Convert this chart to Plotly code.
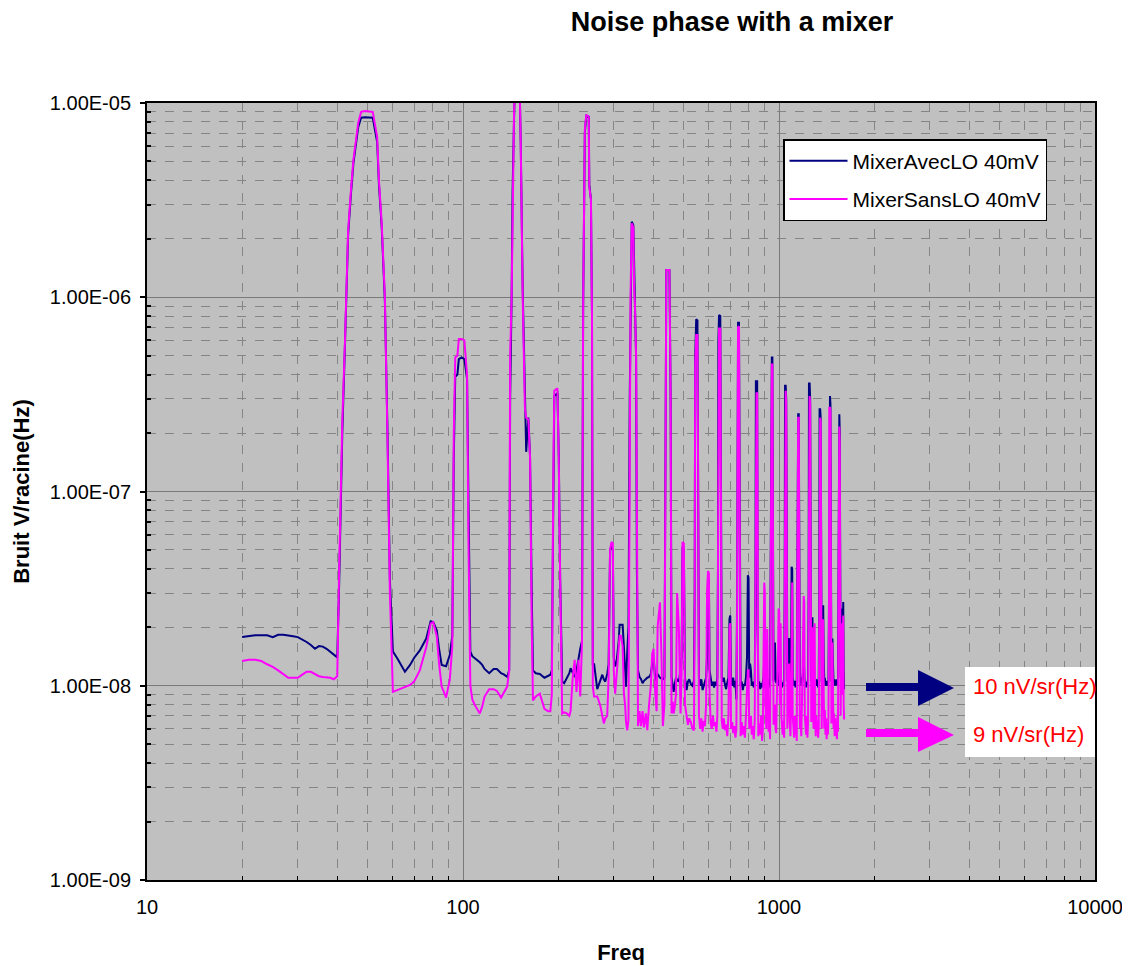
import plotly.graph_objects as go

# ---------------- data (frequency in Hz, noise in nV/sqrt(Hz)) ----------------
freq = [
    20, 21, 22, 23, 24, 25, 26, 27, 28, 29, 30, 31, 32, 33, 34, 35, 36, 37, 38, 39, 40,
    40.5, 41.5, 42.3, 43.3, 44.2, 45, 46.6, 47.6, 49, 51.8, 53.5, 54.2, 55.3, 56.6, 57.7, 58.7, 60,
    62, 65.5, 68, 70, 73, 76.5, 79, 80.5, 82.6, 84, 85.6, 88.4, 90.8, 92.5,
    93.5, 94.5, 96, 97, 99, 101, 103, 104, 105.5, 107, 109, 113, 115, 117, 121, 125, 128, 132, 135, 138, 140,
    141, 142.5, 143.5, 145, 146, 151, 152.3, 154.5, 157, 158.5, 161, 163, 165, 166.5, 170, 175, 181, 186, 189, 191,
    193, 194.5, 199, 201, 203, 206, 209, 213, 217, 219, 222.5, 225.6, 228.7, 232, 235, 238, 240,
    243, 245.5, 250, 251, 254, 256, 257.5, 260, 266, 272, 276, 279, 282, 286, 289, 292, 295, 298, 300, 303, 306, 311, 313, 316, 320, 323, 326, 328, 331, 334, 337,
    339, 342, 346, 348, 350, 353, 355, 358, 362, 366, 370, 374, 379, 383, 388, 393, 397, 401, 406, 410, 413, 420, 425, 429, 434,
    437, 440, 450, 454, 457, 461, 464, 468, 472, 476, 482, 488, 492, 495, 500, 504, 510, 515, 520, 526, 532, 538, 541,
    543, 547, 552, 555, 558, 563, 568, 573, 578, 583, 588, 592, 596, 600, 603, 608, 613, 618, 623, 628, 634, 638, 641,
    643, 646, 652, 656, 659, 664, 669, 674, 680, 686, 692, 697, 701, 705, 711, 716, 722, 728, 733, 737,
    739, 742, 747, 750, 752, 756, 762, 768, 774, 780, 786, 792, 797, 801, 805, 810, 815, 820, 826, 832, 838, 842,
    845, 849, 853, 856, 860, 866, 872, 878, 884, 889, 894, 898, 902, 906, 912, 918, 922, 927, 932, 937, 941,
    944, 949, 953, 957, 961, 966, 971, 975, 980, 986, 993, 997, 1002, 1006, 1012, 1017, 1022, 1027, 1033, 1038, 1042,
    1045, 1050, 1054, 1058, 1063, 1068, 1073, 1077, 1082, 1087, 1092, 1096, 1101, 1105, 1111, 1117, 1122, 1128, 1133, 1138, 1142,
    1145, 1150, 1155, 1159, 1164, 1170, 1176, 1182, 1188, 1193, 1197, 1202, 1207, 1213, 1218, 1224, 1230, 1236, 1241,
    1244, 1250, 1255, 1260, 1265, 1270, 1276, 1281, 1286, 1292, 1297, 1302, 1307, 1313, 1318, 1324, 1330, 1336, 1341,
    1344, 1350, 1355, 1360, 1365, 1371, 1376, 1380, 1385, 1391, 1397, 1403, 1409, 1415, 1421, 1428, 1434, 1440,
    1443, 1450, 1455, 1460, 1465, 1470, 1476, 1482, 1488, 1494, 1500, 1506, 1512, 1519, 1525, 1531, 1537, 1542,
    1546, 1552, 1557, 1562, 1567, 1572, 1577, 1582, 1587, 1592, 1597, 1602, 1607,
]

avec_lo_nv = [
    17.8, 18.0, 18.2, 18.2, 18.2, 17.8, 18.3, 18.3, 18.2, 18.0, 17.8, 17.3, 16.8, 16.2, 15.5, 16.0, 15.9, 15.5, 15.0, 14.4, 14.0,
    30, 200, 560, 2100, 3400, 4900, 7500, 8400, 8450, 8400, 6300, 3800, 2300, 950, 200, 35, 15.0,
    13.8, 11.8, 12.8, 13.9, 15.2, 17.5, 21.5, 21.3, 19.3, 15.5, 12.8, 12.6, 14.4, 18,
    150, 390, 400, 480, 490, 480, 380, 100, 15, 14.2, 13.9, 13.2, 12.8, 12.2, 11.6, 12.2, 12.2, 11.6, 11.4, 11.1, 12,
    300, 1000, 3500, 8000, 13000, 13000, 6200, 1100, 270, 160, 240, 150, 30, 12.0, 11.6, 11.5, 11.0, 11.3, 11.4, 12,
    100, 310, 320, 150, 35, 10.5, 10.3, 11.0, 11.6, 12.3, 11.5, 11.1, 12.0, 14.2, 15.5, 17.0, 900,
    7000, 8600, 8500, 3800, 3200, 800, 12.9, 12.9, 9.6, 10.8, 11.4, 10.8, 10.5, 11.5, 12.9, 50, 52, 50, 14, 12.6, 13.1, 17, 20.6, 20.6, 20.6, 15.8, 12, 9.9, 15, 20.2, 300,
    1000, 2450, 2350, 1100, 930, 490, 40, 12.0, 11.1, 10.8, 10.3, 10.6, 10.9, 11, 11.1, 11.5, 13, 14, 10.7, 10.9, 11.5, 11, 10.9, 10.8, 11,
    400, 1380, 1380, 300, 11.1, 10, 9.3, 10.2, 11, 10.7, 10.5, 12, 14, 52, 50, 11, 9.5, 10.5, 10.8, 10.2, 10.0, 10.6, 30,
    500, 770, 760, 100, 11, 10, 10.8, 9.5, 10.2, 10.5, 11, 14, 36, 35, 12, 10.5, 10, 10.5, 9.8, 10.5, 10, 11, 40,
    600, 810, 800, 60, 11, 10.5, 11, 10.2, 9.6, 10.4, 11, 22, 23, 10.5, 10, 11, 9.8, 10.6, 8.5, 30,
    700, 740, 740, 100, 11, 10, 10.5, 9.5, 10.2, 10, 11, 14, 37, 36, 11, 13, 12, 10, 10.5, 9.8, 10.4, 30,
    370, 370, 370, 20, 10.2, 10.5, 9.6, 10.3, 9.8, 10.5, 11, 14, 12, 10, 10.5, 11, 10, 9.8, 10.4, 10, 40,
    490, 490, 490, 30, 10.5, 11, 16.7, 12, 10.3, 10.8, 10, 11, 12, 10, 11, 10.5, 9.8, 10.4, 10, 10.5, 30,
    350, 350, 300, 20, 10.5, 11, 14, 17.6, 10.5, 10.2, 11, 41, 40, 11, 10.5, 10, 10.6, 9.8, 10.5, 10, 30,
    250, 250, 250, 20, 10.5, 10, 11, 10.4, 11, 12, 14, 12, 10, 10.5, 9.8, 10.4, 10, 11, 30,
    360, 360, 300, 20, 10.5, 14, 22.5, 12, 10.5, 11, 12, 10.5, 10, 10.8, 10, 10.4, 9.8, 11, 30,
    265, 265, 240, 20, 10.5, 12, 20, 26, 14, 10.5, 11, 10, 10.6, 10, 10.5, 10, 10.8, 30,
    310, 310, 280, 20, 10.5, 12, 17.5, 13, 10.3, 10.8, 10, 10.6, 10, 10.8, 10.2, 10.6, 10, 30,
    250, 250, 200, 20, 11, 16, 25, 14, 12, 20, 27, 12, 9.6,
]

sans_lo_nv = [
    13.4, 13.6, 13.6, 13.4, 12.9, 12.5, 12.0, 11.5, 11.0, 11.0, 11.0, 11.4, 11.8, 11.8, 11.5, 11.2, 11.1, 11.0, 11.0, 10.8, 11.2,
    35, 230, 580, 2200, 3560, 5100, 7900, 9000, 9100, 9000, 6700, 4000, 2400, 1000, 180, 30, 9.3,
    9.5, 9.8, 10.1, 10.5, 12.0, 15.8, 20.9, 21.3, 18.0, 13.0, 9.9, 8.7, 10.7, 16,
    200, 490, 500, 610, 610, 600, 400, 60, 10, 8.5, 7.96, 7.2, 7.8, 8.8, 9.6, 9.6, 9.4, 8.7, 9.3, 9.9, 12,
    500, 1000, 3500, 8500, 13000, 13000, 6200, 1000, 270, 240, 235, 150, 20, 8.4, 8.8, 9.1, 7.6, 7.4, 7.4, 9,
    110, 330, 340, 140, 35, 7.2, 7.3, 7.2, 7.0, 7.4, 11.1, 13.6, 9.3, 13.6, 8.8, 16.7, 930,
    7300, 8700, 8500, 3700, 3200, 800, 9.9, 8.8, 8.8, 7.9, 7.0, 6.4, 6.8, 7.0, 11.1, 50, 55, 54, 12, 9.1, 11.1, 17.3, 18.1, 18.1, 16, 9.1, 7.9, 6.5, 5.9, 6.7, 200,
    1000, 2400, 2300, 1100, 930, 490, 30, 6.2, 7.4, 6.2, 7.4, 6.1, 7.2, 5.9, 8, 10, 14.6, 15.5, 9.1, 7.4, 20.2, 26.9, 13.6, 6.2, 8,
    400, 1380, 1380, 300, 7.2, 8.3, 7.2, 7.8, 9, 30, 20, 7.2, 12, 55, 54, 8, 7.0, 6.3, 6.8, 6.5, 6.0, 5.9, 25,
    450, 640, 640, 100, 7, 6, 6.8, 5.8, 6.6, 6.2, 8, 30, 39, 38, 9, 6.4, 6, 7, 6.2, 6.5, 5.8, 7, 40,
    500, 690, 690, 50, 6.6, 6, 6.8, 5.9, 6.3, 5.5, 7, 20, 21, 6, 6.5, 5.7, 6.2, 5.4, 6, 25,
    650, 700, 710, 90, 6, 5.5, 6.5, 5.6, 6.2, 5.4, 7, 11, 12, 12, 6, 6.5, 7, 5.6, 6.2, 5.3, 6.6, 30,
    320, 320, 320, 15, 5.5, 6.4, 5.6, 7, 5.2, 6, 14, 34, 30, 8, 6, 19.6, 8, 5.8, 6.6, 5.3, 30,
    450, 450, 450, 25, 6.3, 7, 8, 6, 5.7, 10, 14, 25, 24, 8, 21, 7, 6, 5.6, 6.6, 5.4, 25,
    330, 330, 280, 15, 6, 8, 11, 13, 6.5, 5.5, 8, 34, 34, 7, 6.2, 5.4, 7, 5.6, 6.4, 5.2, 25,
    240, 240, 240, 15, 6, 7, 5.5, 8, 12, 20, 29, 27, 7, 6, 5.6, 7, 5.4, 6.5, 25,
    310, 310, 280, 15, 6.5, 12, 20, 8, 6, 14, 21, 7, 5.5, 7, 5.8, 6.6, 5.4, 6.2, 25,
    240, 240, 230, 15, 6, 10, 16, 22, 9, 6, 7.5, 5.6, 6.8, 5.3, 6.4, 5.6, 7, 25,
    270, 270, 260, 15, 6.4, 10, 16.7, 9, 6, 7.2, 5.5, 6.8, 5.6, 6.4, 5.3, 7, 5.8, 25,
    216, 216, 180, 15, 7, 12, 21, 9, 10, 16, 23, 8, 6.7,
]

series_names = ["MixerAvecLO 40mV", "MixerSansLO 40mV"]
y_tick_vals = [1e-9, 1e-8, 1e-7, 1e-6, 1e-5]
y_tick_text = ["1.00E-09", "1.00E-08", "1.00E-07", "1.00E-06", "1.00E-05"]
x_tick_vals = [10, 100, 1000, 10000]
x_tick_text = ["10", "100", "1000", "10000"]
level_labels = ["10 nV/sr(Hz)", "9 nV/sr(Hz)"]

# --------------------------------------------------------------------------
NV = 1e-9
avec_lo = [v * NV for v in avec_lo_nv]
sans_lo = [v * NV for v in sans_lo_nv]

FONT = "Liberation Sans, Arial, sans-serif"
BLUE = "#000080"
MAGENTA = "#FF00FF"

x_minor = [m * 10 ** d for d in (1, 2, 3) for m in range(2, 10)]
y_minor = [m * 10.0 ** d for d in (-9, -8, -7, -6) for m in range(2, 10)]

fig = go.Figure()
fig.add_trace(go.Scatter(x=freq, y=avec_lo, mode="lines", name=series_names[0],
                         line=dict(color=BLUE, width=2), legendgroup="a"))
fig.add_trace(go.Scatter(x=freq, y=sans_lo, mode="lines", name=series_names[1],
                         line=dict(color=MAGENTA, width=2), legendgroup="b"))

# page body has an 8px margin: build the figure 8px smaller so it fits the window
OFF = 8
W, H = 1130 - OFF, 966 - OFF
# plot area in window pixels: x 147..1095, y 103..880
PL, PR, PT, PB = 147, 1095, 103, 880
L, R = PL - OFF, W - (PR - OFF)
T, B = PT - OFF, H - (PB - OFF)
PW, PH = PR - PL, PB - PT


def px(x):
    return (x - PL) / PW


def py(y):
    return (PB - y) / PH


shapes = []
# arrows
for (ys0, ys1, yh0, yh1, ytip, col) in [
    (683, 691, 670, 706, 688, BLUE),
    (729, 737, 717, 752, 735, MAGENTA),
]:
    shapes.append(dict(type="rect", xref="paper", yref="paper",
                       x0=px(866), x1=px(921), y0=py(ys1), y1=py(ys0),
                       fillcolor=col, line=dict(width=0), layer="above"))
    path = "M {} {} L {} {} L {} {} Z".format(px(918), py(yh0), px(918), py(yh1), px(954), py(ytip))
    shapes.append(dict(type="path", xref="paper", yref="paper", path=path,
                       fillcolor=col, line=dict(width=0, color=col), layer="above"))
# white label box
shapes.append(dict(type="rect", xref="paper", yref="paper",
                   x0=px(965), x1=px(1095), y0=py(757), y1=py(667),
                   fillcolor="white", line=dict(width=0), layer="above"))

annotations = [
    dict(text=level_labels[0], xref="paper", yref="paper", x=px(971), y=py(686),
         xanchor="left", yanchor="middle", showarrow=False,
         font=dict(family=FONT, size=22, color="#FF0000")),
    dict(text=level_labels[1], xref="paper", yref="paper", x=px(971), y=py(734),
         xanchor="left", yanchor="middle", showarrow=False,
         font=dict(family=FONT, size=22, color="#FF0000")),
]

fig.update_layout(
    width=W, height=H,
    margin=dict(l=L, r=R, t=T, b=B, autoexpand=False),
    paper_bgcolor="white",
    plot_bgcolor="#C0C0C0",
    title=dict(text="<b>Noise phase with a mixer</b>", x=(732 - OFF) / W, xanchor="center",
               y=1 - (22 - OFF) / H, yanchor="middle", yref="container",
               font=dict(family=FONT, size=27, color="black")),
    showlegend=True,
    legend=dict(x=px(783), y=py(139), xanchor="left", yanchor="top",
                bgcolor="white", bordercolor="black", borderwidth=1.5,
                font=dict(family=FONT, size=21, color="black"),
                tracegroupgap=8, itemwidth=58),
    shapes=shapes,
    annotations=annotations,
    xaxis=dict(type="log", range=[1, 4], automargin=False,
               tickvals=x_tick_vals, ticktext=x_tick_text,
               tickfont=dict(family=FONT, size=20, color="black"),
               ticks="", ticklabelstandoff=8,
               showgrid=True, gridcolor="#7A7A7A", gridwidth=1.3,
               showline=True, linecolor="black", linewidth=2, mirror=True,
               minor=dict(tickvals=x_minor, showgrid=True, gridcolor="#858585",
                          griddash="dash", gridwidth=1, ticks="inside", ticklen=4,
                          tickcolor="black"),
               title=dict(text="<b>Freq</b>", standoff=28,
                          font=dict(family=FONT, size=22, color="black")),
               zeroline=False),
    yaxis=dict(type="log", range=[-9, -5], automargin=False,
               tickvals=y_tick_vals, ticktext=y_tick_text,
               tickfont=dict(family=FONT, size=20, color="black"),
               ticks="outside", ticklen=5, tickcolor="black", tickwidth=2,
               ticklabelstandoff=5,
               showgrid=True, gridcolor="#7A7A7A", gridwidth=1.3,
               showline=True, linecolor="black", linewidth=2, mirror=True,
               minor=dict(tickvals=y_minor, showgrid=True, gridcolor="#858585",
                          griddash="dash", gridwidth=1, ticks="inside", ticklen=4,
                          tickcolor="black"),
               title=dict(text="<b>Bruit V/racine(Hz)</b>", standoff=14,
                          font=dict(family=FONT, size=22, color="black")),
               zeroline=False),
)

fig.write_html("out.html")
